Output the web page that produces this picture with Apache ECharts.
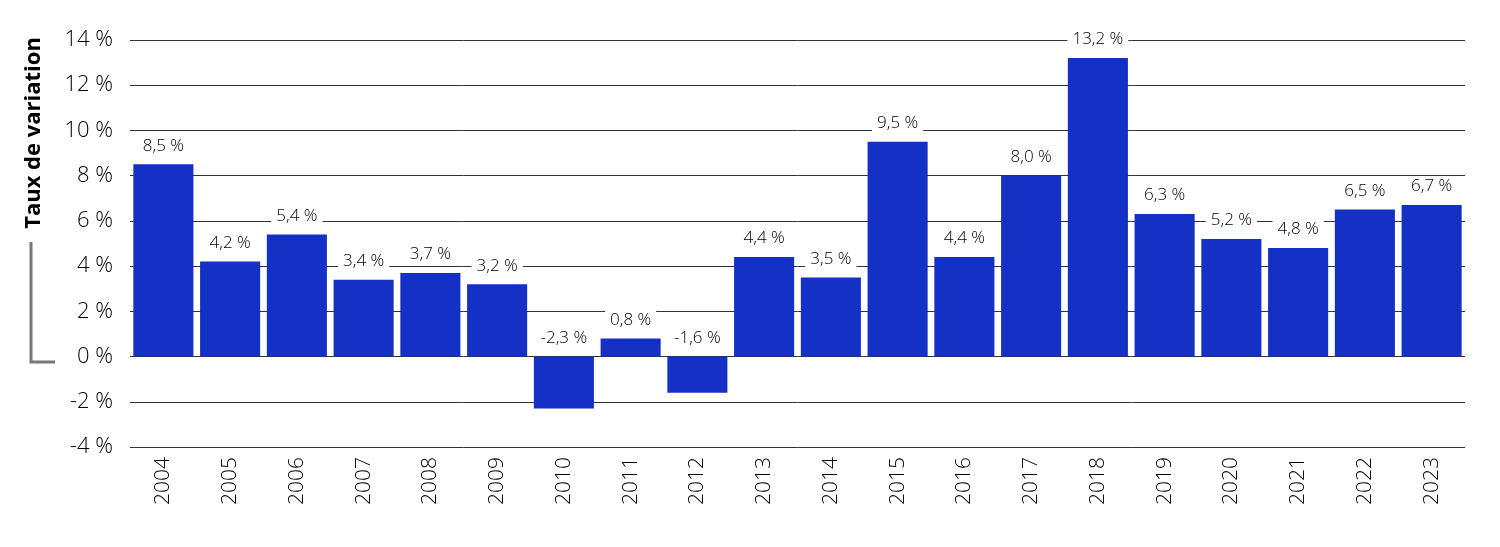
<!DOCTYPE html>
<html><head><meta charset="utf-8">
<script src="https://cdn.jsdelivr.net/npm/echarts@6/dist/echarts.min.js"></script>
<style>html,body{margin:0;padding:0;background:#fff}#c{width:1500px;height:547px}</style>
</head><body><div id="c"></div>
<script>
const years = ['2004','2005','2006','2007','2008','2009','2010','2011','2012','2013','2014','2015','2016','2017','2018','2019','2020','2021','2022','2023'];
const rates = [8.5,4.2,5.4,3.4,3.7,3.2,-2.3,0.8,-1.6,4.4,3.5,9.5,4.4,8.0,13.2,6.3,5.2,4.8,6.5,6.7];
const yTitle = 'Taux de variation';
const FONT = "'Open Sans', 'Noto Sans', sans-serif";
const fmt = v => v.toFixed(1).replace('.', ',') + ' %';
const chart = echarts.init(document.getElementById('c'));
chart.setOption({
  animation:false,
  grid:{left:130,right:35,top:40,bottom:100},
  xAxis:{type:'category',data:years,
    axisLine:{show:false},axisTick:{show:false},
    axisLabel:{rotate:90,margin:10,fontSize:21,color:'#000',fontFamily:FONT,fontWeight:300}},
  yAxis:{type:'value',min:-4,max:14,interval:2,
    axisLine:{show:false},axisTick:{show:false},
    splitLine:{lineStyle:{color:'#333',width:1}},
    axisLabel:{formatter:v=>v+' %',margin:17,fontSize:22,color:'#000',fontFamily:FONT,fontWeight:300}},
  graphic:[
    {type:'text',rotation:Math.PI/2,x:34,y:133,style:{text:yTitle,font:"bold 22px "+FONT,fill:'#000',align:'center',verticalAlign:'middle'}},
    {type:'polyline',shape:{points:[[31,242],[31,362],[55,362]]},style:{stroke:'#777',lineWidth:3,fill:null}}
  ],
  series:[{type:'bar',barCategoryGap:'10%',
    data:rates,
    itemStyle:{color:'#1530c4'},
    label:{show:true,position:'top',distance:8,formatter:p=>fmt(p.value),fontSize:17,color:'#000',fontFamily:FONT,fontWeight:300,
      backgroundColor:'#fff',padding:[2,5]}
  }]
});
</script></body></html>
